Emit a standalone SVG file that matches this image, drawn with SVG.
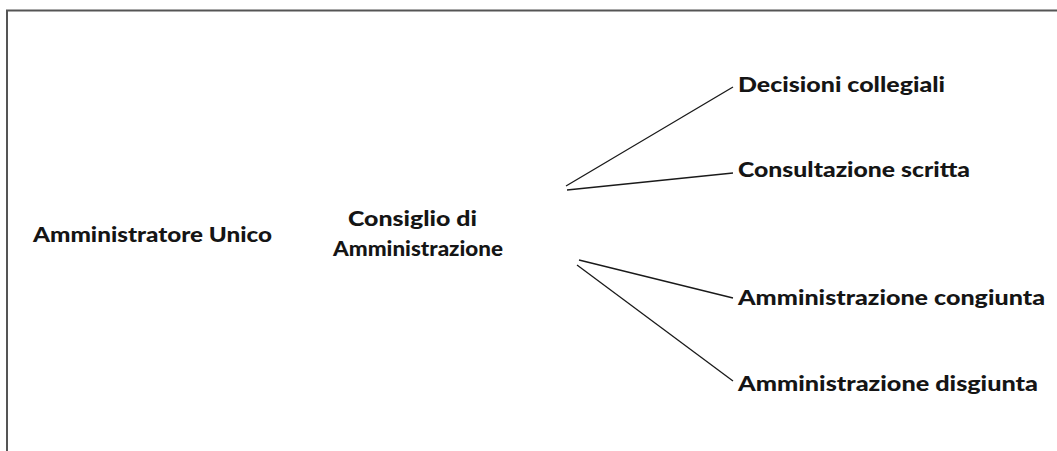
<svg xmlns="http://www.w3.org/2000/svg" width="1057" height="451" viewBox="0 0 1057 451">
<style>
.lbl{font-family:"Lato","Liberation Sans",sans-serif;font-weight:900;font-size:21px;fill:#151515}
.con{stroke:#1a1a1a;stroke-width:1.3;fill:none}
.frame{stroke:#555;stroke-width:2;fill:none}
</style>
<rect width="1057" height="451" fill="#fff"/>
<path class="frame" d="M7,451 V10.5 H1057"/>
<g id="connectors">
<line class="con" x1="566" y1="186" x2="733" y2="87"/>
<line class="con" x1="567" y1="190" x2="733" y2="173"/>
<line class="con" x1="579" y1="260" x2="733" y2="298"/>
<line class="con" x1="577" y1="265" x2="733" y2="381"/>
</g>
<g id="amministratore-unico"><text class="lbl" x="33" y="242" textLength="239" lengthAdjust="spacingAndGlyphs">Amministratore Unico</text></g>
<g id="consiglio"><text class="lbl" x="348" y="226" textLength="129" lengthAdjust="spacingAndGlyphs">Consiglio di</text><text class="lbl" x="333" y="256" textLength="170" lengthAdjust="spacingAndGlyphs">Amministrazione</text></g>
<g id="decisioni"><text class="lbl" x="738" y="92" textLength="207" lengthAdjust="spacingAndGlyphs">Decisioni collegiali</text></g>
<g id="consultazione"><text class="lbl" x="738" y="177" textLength="232" lengthAdjust="spacingAndGlyphs">Consultazione scritta</text></g>
<g id="congiunta"><text class="lbl" x="738" y="305" textLength="307" lengthAdjust="spacingAndGlyphs">Amministrazione congiunta</text></g>
<g id="disgiunta"><text class="lbl" x="738" y="391" textLength="300" lengthAdjust="spacingAndGlyphs">Amministrazione disgiunta</text></g>
</svg>
